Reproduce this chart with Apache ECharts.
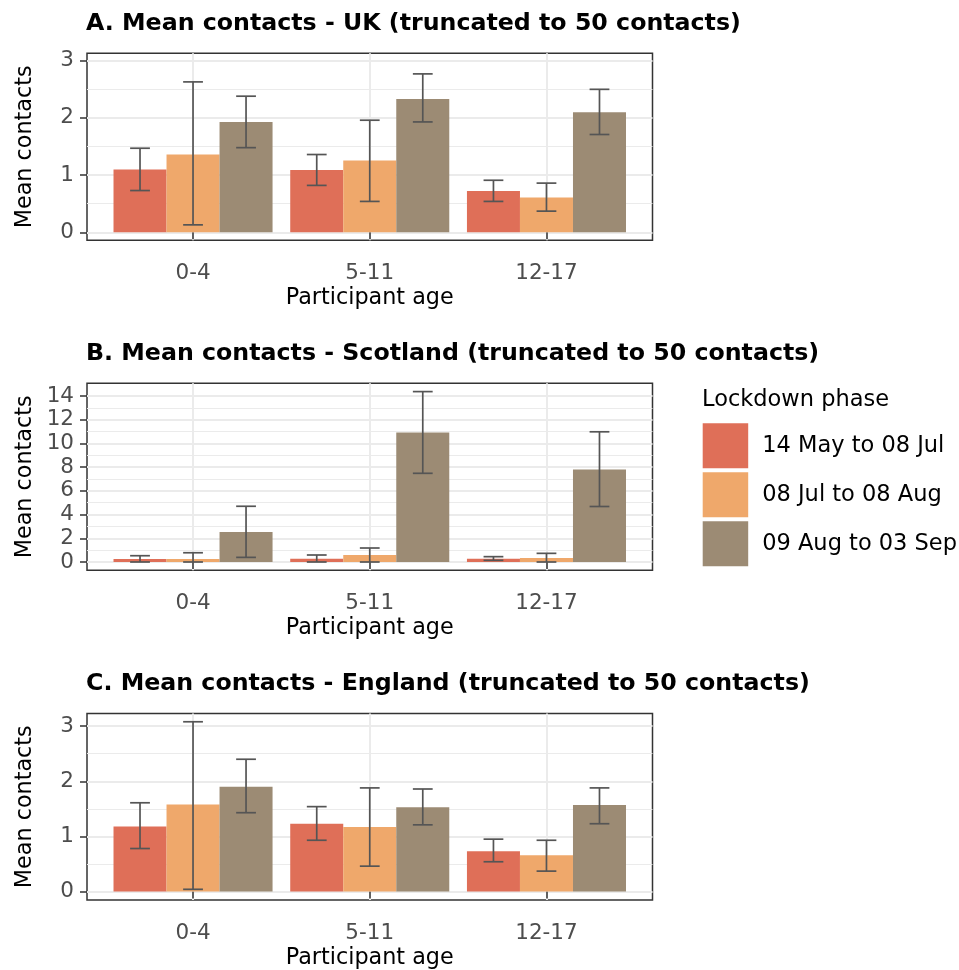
<!DOCTYPE html>
<html><head><meta charset="utf-8">
<script src="https://cdn.jsdelivr.net/npm/echarts@6/dist/echarts.min.js"></script>
<style>html,body{margin:0;padding:0;background:#fff}#c{width:959px;height:970px}</style>
</head><body><div id="c"></div>
<script>
// ---------------- data ----------------
const categories = ['0-4', '5-11', '12-17'];
const phases = ['14 May to 08 Jul', '08 Jul to 08 Aug', '09 Aug to 03 Sep'];
const panelTitles = [
  'A. Mean contacts - UK (truncated to 50 contacts)',
  'B. Mean contacts - Scotland (truncated to 50 contacts)',
  'C. Mean contacts - England (truncated to 50 contacts)'
];
// each row = one lockdown phase, columns = categories
const ukMean = [[1.10, 1.09, 0.72], [1.36, 1.255, 0.61], [1.93, 2.33, 2.10]];
const ukLow  = [[0.73, 0.82, 0.54], [0.13, 0.54, 0.37], [1.48, 1.93, 1.71]];
const ukHigh = [[1.47, 1.36, 0.91], [2.63, 1.96, 0.86], [2.38, 2.77, 2.50]];

const scoMean = [[0.25, 0.28, 0.28], [0.25, 0.59, 0.34], [2.52, 10.92, 7.81]];
const scoLow  = [[0.00, 0.00, 0.14], [0.00, 0.00, 0.00], [0.39, 7.48, 4.68]];
const scoHigh = [[0.53, 0.59, 0.45], [0.78, 1.18, 0.73], [4.70, 14.37, 10.98]];

const engMean = [[1.18, 1.23, 0.73], [1.58, 1.17, 0.66], [1.90, 1.53, 1.57]];
const engLow  = [[0.78, 0.93, 0.54], [0.04, 0.46, 0.37], [1.43, 1.21, 1.23]];
const engHigh = [[1.61, 1.54, 0.95], [3.08, 1.88, 0.93], [2.40, 1.86, 1.88]];

const yTicksA = [0, 1, 2, 3];
const yMinorA = [0.5, 1.5, 2.5];
const yTicksB = [0, 2, 4, 6, 8, 10, 12, 14];
const yMinorB = [1, 3, 5, 7, 9, 11, 13];
const yTicksC = [0, 1, 2, 3];
const yMinorC = [0.5, 1.5, 2.5];

// ---------------- style / layout ----------------
const FONT = 'DejaVu Sans';
const colors = ['#DF6F58', '#EFA86B', '#9C8B74'];
const GRID_LEFT = 87, GRID_W = 565.5, GRID_H = 187;
const panels = [
  {title: panelTitles[0], mean: ukMean, low: ukLow, high: ukHigh, yMin: -0.14, yMax: 3.13, major: yTicksA, minor: yMinorA, top: 53.3},
  {title: panelTitles[1], mean: scoMean, low: scoLow, high: scoHigh, yMin: -0.7, yMax: 15.07, major: yTicksB, minor: yMinorB, top: 383.3},
  {title: panelTitles[2], mean: engMean, low: engLow, high: engHigh, yMin: -0.154, yMax: 3.23, major: yTicksC, minor: yMinorC, top: 713.5}
];
const BAR_FRAC = 0.3;      // each bar = 0.3 of category spacing (dodge 0.9 / 3)
const WHISKER = 0.112;     // whisker width in category units
const catPos = categories.map((c, j) => j + 1);

const grid = [], xAxis = [], yAxis = [], series = [], title = [];
panels.forEach((p, i) => {
  grid.push({left: GRID_LEFT, width: GRID_W, top: p.top, height: GRID_H, show: true,
    borderColor: '#333333', borderWidth: 1.5, backgroundColor: '#fff', containLabel: false});
  title.push({text: p.title, left: 86, top: p.top - 41.5, padding: 0,
    textStyle: {fontFamily: FONT, fontWeight: 'bold', fontSize: 23.7, color: '#000'}});
  xAxis.push({type: 'value', gridIndex: i, min: 0.4, max: 3.6,
    name: 'Participant age', nameLocation: 'middle', nameGap: 47,
    nameTextStyle: {fontFamily: FONT, fontSize: 22.3, color: '#000'},
    axisLine: {show: false},
    axisTick: {show: true, length: 7, customValues: catPos, lineStyle: {color: '#333', width: 1.5}},
    axisLabel: {customValues: catPos, formatter: v => categories[Math.round(v) - 1],
      fontFamily: FONT, fontSize: 21.5, color: '#4D4D4D', margin: 22},
    splitLine: {show: true, lineStyle: {color: '#EBEBEB', width: 2}}
  });
  yAxis.push({type: 'value', gridIndex: i, min: p.yMin, max: p.yMax, position: 'left',
    name: 'Mean contacts', nameLocation: 'middle', nameGap: 51,
    nameTextStyle: {fontFamily: FONT, fontSize: 22.3, color: '#000'},
    axisLine: {show: false},
    axisTick: {show: true, length: 7, customValues: p.major, lineStyle: {color: '#333', width: 1.5}},
    axisLabel: {customValues: p.major, fontFamily: FONT, fontSize: 21.5, color: '#4D4D4D', margin: 13},
    splitLine: {show: true, lineStyle: {color: '#EBEBEB', width: 2}}
  });
  yAxis.push({type: 'value', gridIndex: i, min: p.yMin, max: p.yMax, position: 'right',
    axisLine: {show: false}, axisTick: {show: false, customValues: p.minor},
    axisLabel: {show: false},
    splitLine: {show: true, lineStyle: {color: '#EBEBEB', width: 1}}
  });
  phases.forEach((ph, k) => {
    series.push({type: 'bar', name: ph, xAxisIndex: i, yAxisIndex: 2 * i,
      data: categories.map((c, j) => [catPos[j], p.mean[k][j]]),
      barWidth: (BAR_FRAC * 100) + '%', barGap: '0%', silent: true,
      itemStyle: {color: colors[k]}, emphasis: {disabled: true}});
  });
  const errData = [];
  phases.forEach((ph, k) => categories.forEach((c, j) => errData.push([catPos[j], k, p.low[k][j], p.high[k][j]])));
  series.push({type: 'custom', xAxisIndex: i, yAxisIndex: 2 * i, silent: true, z: 3,
    data: errData, encode: {x: 0, y: [2, 3]},
    renderItem: (params, api) => {
      const cx = api.value(0) + (api.value(1) - 1) * BAR_FRAC;
      const lo = api.coord([cx, api.value(2)]);
      const hi = api.coord([cx, api.value(3)]);
      const hw = api.size([WHISKER, 0])[0] / 2;
      const st = {stroke: '#555555', lineWidth: 1.7};
      return {type: 'group', children: [
        {type: 'line', shape: {x1: lo[0], y1: lo[1], x2: hi[0], y2: hi[1]}, style: st},
        {type: 'line', shape: {x1: hi[0] - hw, y1: hi[1], x2: hi[0] + hw, y2: hi[1]}, style: st},
        {type: 'line', shape: {x1: lo[0] - hw, y1: lo[1], x2: lo[0] + hw, y2: lo[1]}, style: st}
      ]};
    }
  });
});
title.push({text: 'Lockdown phase', left: 702, top: 389, padding: 0,
  textStyle: {fontFamily: FONT, fontWeight: 'normal', fontSize: 22.5, color: '#000'}});

const chart = echarts.init(document.getElementById('c'), null, {renderer: 'canvas'});
chart.setOption({
  animation: false,
  backgroundColor: '#fff',
  title, grid, xAxis, yAxis, series,
  legend: {orient: 'vertical', left: 702.7, top: 423.3, padding: 0,
    itemWidth: 45.5, itemHeight: 45, itemGap: 4, icon: 'rect', selectedMode: false,
    data: phases,
    textStyle: {fontFamily: FONT, fontSize: 22.5, color: '#000', padding: [0, 0, 0, 9]}}
});
</script></body></html>
